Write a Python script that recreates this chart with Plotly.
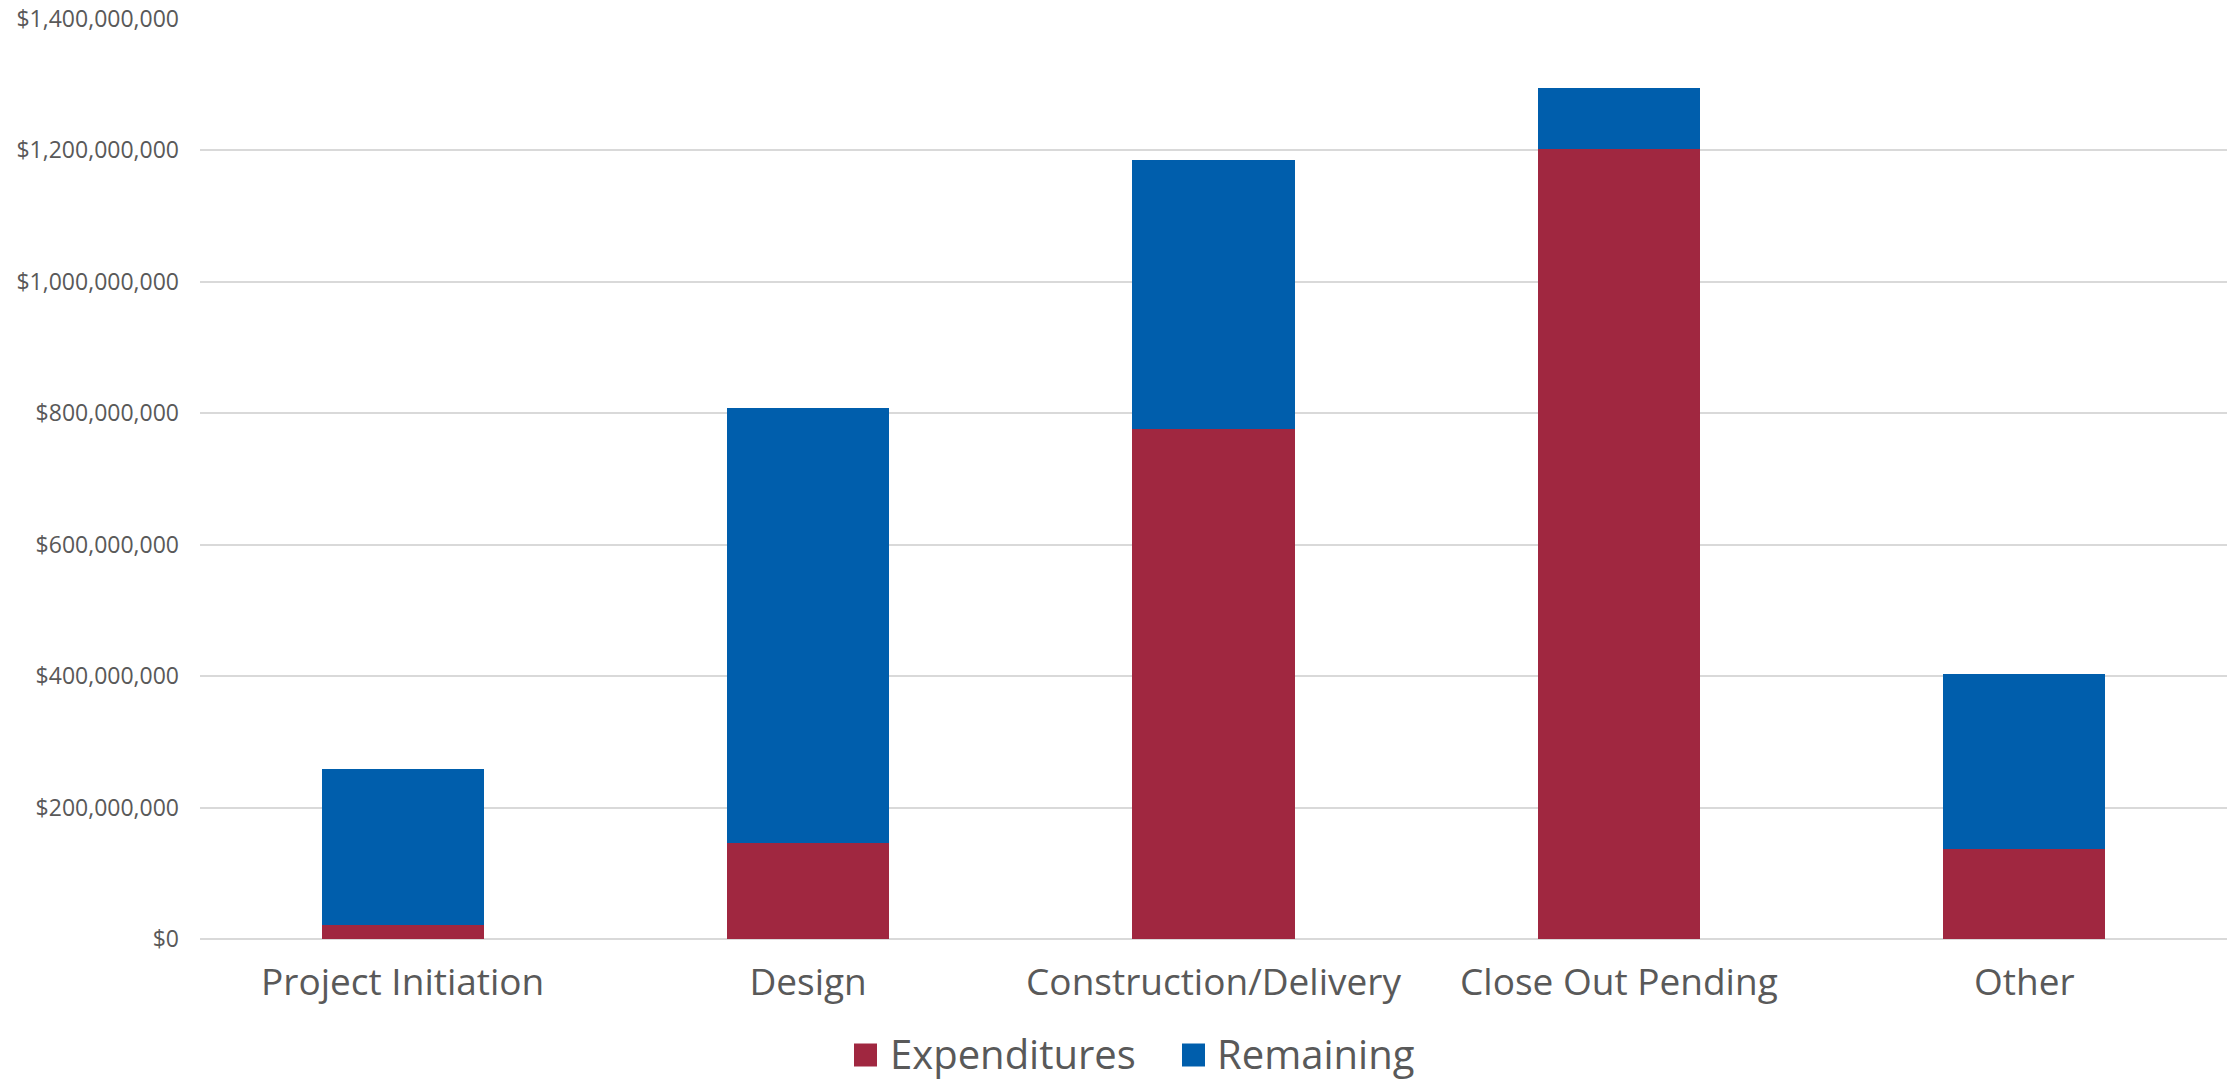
import plotly.graph_objects as go

# Budget by project phase: spent vs. still available
phases = ["Project Initiation", "Design", "Construction/Delivery", "Close Out Pending", "Other"]
expenditures = [21e6, 146e6, 776e6, 1202e6, 137e6]
remaining = [237e6, 662e6, 409e6, 93e6, 266e6]
series_names = ["Expenditures", "Remaining"]

y_ticks = [0, 200e6, 400e6, 600e6, 800e6, 1000e6, 1200e6, 1400e6]
y_tick_labels = ["$0", "$200,000,000", "$400,000,000", "$600,000,000",
                 "$800,000,000", "$1,000,000,000", "$1,200,000,000", "$1,400,000,000"]

RED = "#A02740"
BLUE = "#005EAC"
TEXT = "#595959"
GRID = "#D9D9D9"
FONT = "Open Sans"

W, H = 2227, 1081
M_L, M_R, M_T, M_B = 200, 0, 19, 142
PLOT_W = W - M_L - M_R
PLOT_H = H - M_T - M_B


def px_to_paper(px, py):
    """Convert page pixel coordinates to paper coordinates."""
    return (px - M_L) / PLOT_W, (H - M_B - py) / PLOT_H


fig = go.Figure()
fig.add_trace(go.Bar(name=series_names[0], x=phases, y=expenditures,
                     marker=dict(color=RED, line=dict(width=0))))
fig.add_trace(go.Bar(name=series_names[1], x=phases, y=remaining,
                     marker=dict(color=BLUE, line=dict(width=0))))

# Legend drawn below the chart with large square swatches
legend_items = [
    (series_names[0], RED, 854, 888),
    (series_names[1], BLUE, 1182, 1215),
]
SW = 23
LEG_CY = 1055
shapes = []
annotations = []
for name, color, sx, tx in legend_items:
    x0, y0 = px_to_paper(sx, LEG_CY + SW / 2)
    x1, y1 = px_to_paper(sx + SW, LEG_CY - SW / 2)
    shapes.append(dict(type="rect", xref="paper", yref="paper",
                       x0=x0, y0=y0, x1=x1, y1=y1,
                       fillcolor=color, line=dict(width=0), layer="above"))
    ax, ay = px_to_paper(tx, LEG_CY - 2)
    annotations.append(dict(text=name, xref="paper", yref="paper",
                            x=ax, y=ay, xanchor="left", yanchor="middle",
                            showarrow=False,
                            font=dict(size=40, color=TEXT, family=FONT)))

fig.update_layout(
    width=W, height=H,
    barmode="stack", bargap=0.6,
    paper_bgcolor="white", plot_bgcolor="white",
    margin=dict(l=M_L, r=M_R, t=M_T, b=M_B),
    font=dict(family=FONT, color=TEXT),
    showlegend=False,
    shapes=shapes,
    annotations=annotations,
)

fig.update_xaxes(
    range=[-0.5, 4.5],
    showgrid=False, showline=False, zeroline=False,
    ticks="", tickfont=dict(size=37, color=TEXT, family=FONT),
    ticklabelstandoff=18,
)
fig.update_yaxes(
    range=[0, 1.4e9],
    tickvals=y_ticks, ticktext=y_tick_labels,
    showgrid=True, gridcolor=GRID, gridwidth=1.5,
    zeroline=True, zerolinecolor=GRID, zerolinewidth=1.5,
    showline=False, ticks="",
    tickfont=dict(size=23, color=TEXT, family=FONT),
    ticklabelstandoff=20,
)

fig.write_html("out.html")
